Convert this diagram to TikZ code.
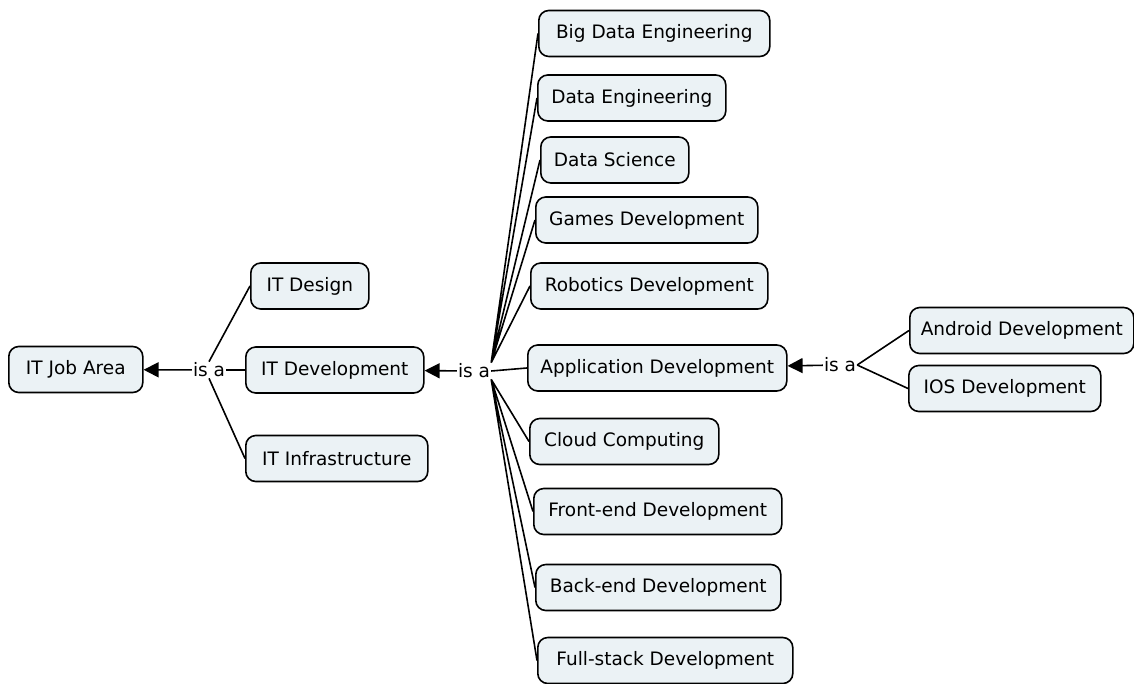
\documentclass[tikz,border=0pt]{standalone}
\usepackage{fontspec}
\setmainfont{DejaVu Sans}
\usetikzlibrary{arrows.meta}
\definecolor{conceptfill}{HTML}{EBF2F5}
\tikzset{
    concept-box/.style = {draw=black, fill=conceptfill, line width=1.6pt, rectangle, rounded corners=10pt, anchor=west, minimum height=46pt, inner xsep=8pt, font=\fontsize{18.5}{22}\selectfont},
    link-label/.style = {inner sep=1pt, font=\fontsize{18.5}{22}\selectfont},
    link/.style = {line width=1.6pt},
    is-a/.style = {line width=1.6pt, -{Triangle[length=15pt,width=15pt]}},
}

\begin{document}
\begin{tikzpicture}[x=1pt,y=-1pt]
\useasboundingbox (0,0) rectangle (1134,684);
% left part
\node[concept-box, minimum width=134pt] (job) at (8,369.5) {IT Job Area};
\node[concept-box, minimum width=118pt] (design) at (250,286) {IT Design};
\node[concept-box, minimum width=178pt] (dev) at (245,370) {IT Development};
\node[concept-box, minimum width=182pt] (infra) at (245,458.5) {IT Infrastructure};
\node[link-label] (isa1) at (209,370) {is a};
% development areas
\node[concept-box, minimum width=231pt] (bigdata) at (538,33.5) {Big Data Engineering};
\node[concept-box, minimum width=188pt] (dataeng) at (537,98) {Data Engineering};
\node[concept-box, minimum width=148pt] (datasci) at (540,160) {Data Science};
\node[concept-box, minimum width=222pt] (games) at (535,220) {Games Development};
\node[concept-box, minimum width=237pt] (robotics) at (530,286) {Robotics Development};
\node[concept-box, minimum width=259pt] (app) at (527,368) {Application Development};
\node[concept-box, minimum width=189pt] (cloud) at (529,441.5) {Cloud Computing};
\node[concept-box, minimum width=248pt] (front) at (533,511.5) {Front-end Development};
\node[concept-box, minimum width=245pt] (back) at (535,587.5) {Back-end Development};
\node[concept-box, minimum width=255pt] (full) at (537,660.5) {Full-stack Development};
\node[link-label] (isa2) at (474,371) {is a};
% application development
\node[concept-box, minimum width=224pt] (android) at (909,330.5) {Android Development};
\node[concept-box, minimum width=192pt] (ios) at (908,388.5) {IOS Development};
\node[link-label] (isa3) at (840,365) {is a};

% links
\draw[is-a] (isa1) -- (job);
\draw[link] (isa1.north) -- (design.west)
            (isa1) -- (dev)
            (isa1.south) -- (infra.west);
\draw[is-a] (isa2) -- (dev);
\draw[link] (isa2.north east) -- (bigdata.west)
            (isa2.north east) -- (dataeng.west)
            (isa2.north east) -- (datasci.west)
            (isa2.north east) -- (games.west)
            (isa2.north east) -- (robotics.west)
            (isa2.east) -- (app.west)
            (isa2.south east) -- (cloud.west)
            (isa2.south east) -- (front.west)
            (isa2.south east) -- (back.west)
            (isa2.south east) -- (full.west);
\draw[is-a] (isa3) -- (app);
\draw[link] (isa3.east) -- (android.west)
            (isa3.east) -- (ios.west);
\end{tikzpicture}
\end{document}
